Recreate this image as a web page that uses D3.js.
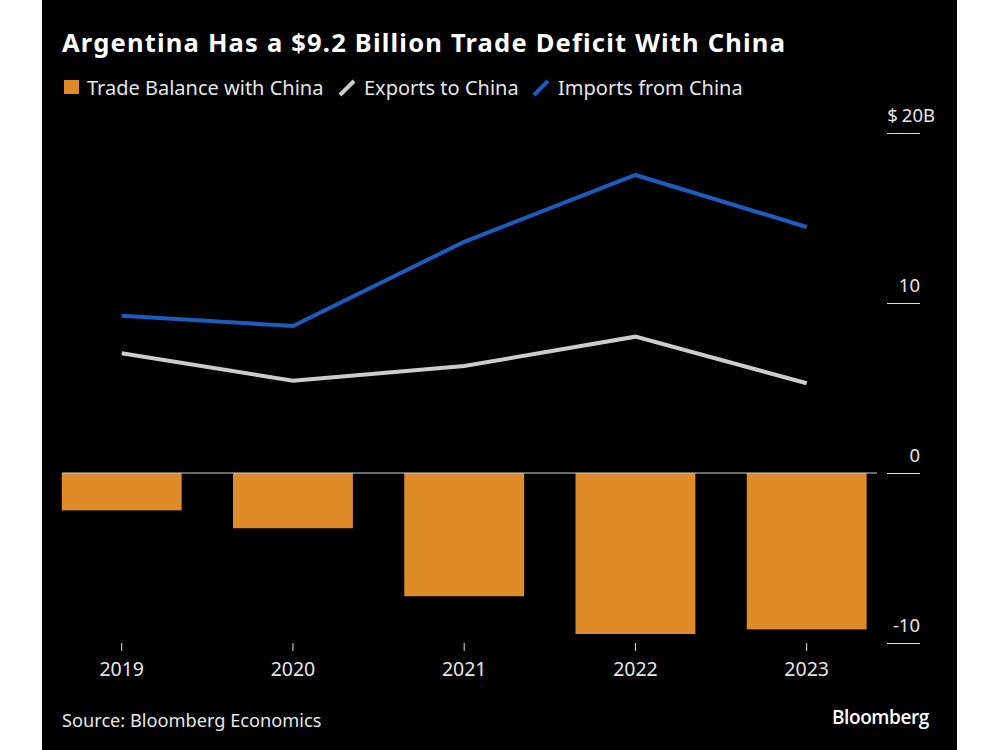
<!DOCTYPE html>
<html>
<head>
<meta charset="utf-8">
<script src="https://cdn.jsdelivr.net/npm/d3@7"></script>
<style>
  html, body { margin: 0; padding: 0; background: #ffffff; }
  svg { display: block; }
</style>
</head>
<body>
<svg id="chart" width="1000" height="750"></svg>
<script>
const years = ["2019", "2020", "2021", "2022", "2023"];
const balance = [-2.2, -3.25, -7.25, -9.47, -9.2];
const exportsToChina = [7.04, 5.43, 6.29, 8.02, 5.28];
const importsFromChina = [9.25, 8.65, 13.6, 17.53, 14.47];
const yTicks = [20, 10, 0, -10];
const yTickLabels = ["$20B", "10", "0", "-10"];

const svg = d3.select("#chart");
const font = "'Noto Sans', 'Open Sans', sans-serif";

svg.append("rect").attr("x", 42).attr("y", 0).attr("width", 915).attr("height", 750).attr("fill", "#000000");

const x = d3.scaleBand().domain(years).range([36.1, 892.3]).paddingInner(0.3).paddingOuter(0.15);
const y = d3.scaleLinear().domain([-10, 20]).range([643, 133]);

// title
svg.append("text").attr("x", 62).attr("y", 52)
  .attr("fill", "#ffffff").attr("font-family", font).attr("font-weight", "700")
  .attr("font-size", 25.5).attr("letter-spacing", 1.2)
  .text("Argentina Has a $9.2 Billion Trade Deficit With China");

// legend
const lg = svg.append("g").attr("font-family", font).attr("font-size", 20).attr("fill", "#e6e6e6");
lg.append("rect").attr("x", 64).attr("y", 80).attr("width", 15).attr("height", 14).attr("fill", "#df8b2a");
lg.append("text").attr("x", 87).attr("y", 95).text("Trade Balance with China");
lg.append("line").attr("x1", 340).attr("y1", 95).attr("x2", 354).attr("y2", 81)
  .attr("stroke", "#cccccc").attr("stroke-width", 4);
lg.append("text").attr("x", 364).attr("y", 95).text("Exports to China");
lg.append("line").attr("x1", 534).attr("y1", 95).attr("x2", 548).attr("y2", 81)
  .attr("stroke", "#1c5cc0").attr("stroke-width", 4);
lg.append("text").attr("x", 558).attr("y", 95).text("Imports from China");

// bars
svg.append("g").selectAll("rect").data(years).join("rect")
  .attr("x", d => x(d))
  .attr("width", x.bandwidth())
  .attr("y", (d, i) => y(Math.max(0, balance[i])))
  .attr("height", (d, i) => Math.abs(y(balance[i]) - y(0)))
  .attr("fill", "#df8b2a");

// zero line
svg.append("line").attr("x1", 62).attr("x2", 877).attr("y1", y(0)).attr("y2", y(0))
  .attr("stroke", "#cfcfcf").attr("stroke-width", 1);

// lines
const line = d3.line().x((d, i) => x(years[i]) + x.bandwidth() / 2).y(d => y(d));
svg.append("path").datum(exportsToChina).attr("d", line).attr("fill", "none")
  .attr("stroke", "#cccccc").attr("stroke-width", 4);
svg.append("path").datum(importsFromChina).attr("d", line).attr("fill", "none")
  .attr("stroke", "#1c5cc0").attr("stroke-width", 4);

// right axis
const ya = svg.append("g").attr("transform", "translate(920,0)")
  .call(d3.axisRight(y).tickValues(yTicks).tickSize(0).tickFormat(""));
ya.select(".domain").remove();
ya.selectAll(".tick").each(function(d, i) {
  const g = d3.select(this);
  g.append("line").attr("x1", -33).attr("x2", 0).attr("y1", 0).attr("y2", 0)
    .attr("stroke", "#dddddd").attr("stroke-width", 1.2);
  const label = yTickLabels[yTicks.indexOf(d)];
  const t = g.append("text").attr("x", i === 0 ? 15 : 0).attr("y", -12).attr("text-anchor", "end")
    .attr("fill", "#e6e6e6").attr("font-family", font).attr("font-size", 18.5);
  if (label.startsWith("$")) {
    t.append("tspan").text("$");
    t.append("tspan").attr("dx", 4).text(label.slice(1));
  } else {
    t.text(label);
  }
});

// x axis
const xa = svg.append("g").attr("transform", `translate(0,${y(-10)})`)
  .call(d3.axisBottom(x).tickSize(8).tickPadding(11));
xa.select(".domain").remove();
xa.selectAll(".tick line").attr("stroke", "#dddddd");
xa.selectAll(".tick text").attr("fill", "#e6e6e6").attr("font-family", font).attr("font-size", 19.5);

// footer
svg.append("text").attr("x", 62).attr("y", 727).attr("fill", "#e6e6e6")
  .attr("font-family", font).attr("font-size", 18.2).text("Source: Bloomberg Economics");
svg.append("text").attr("x", 929).attr("y", 724).attr("text-anchor", "end").attr("fill", "#ffffff")
  .attr("font-family", "'Open Sans', sans-serif").attr("font-weight", "600").attr("font-size", 19)
  .attr("letter-spacing", -0.4).text("Bloomberg");
</script>
</body>
</html>
